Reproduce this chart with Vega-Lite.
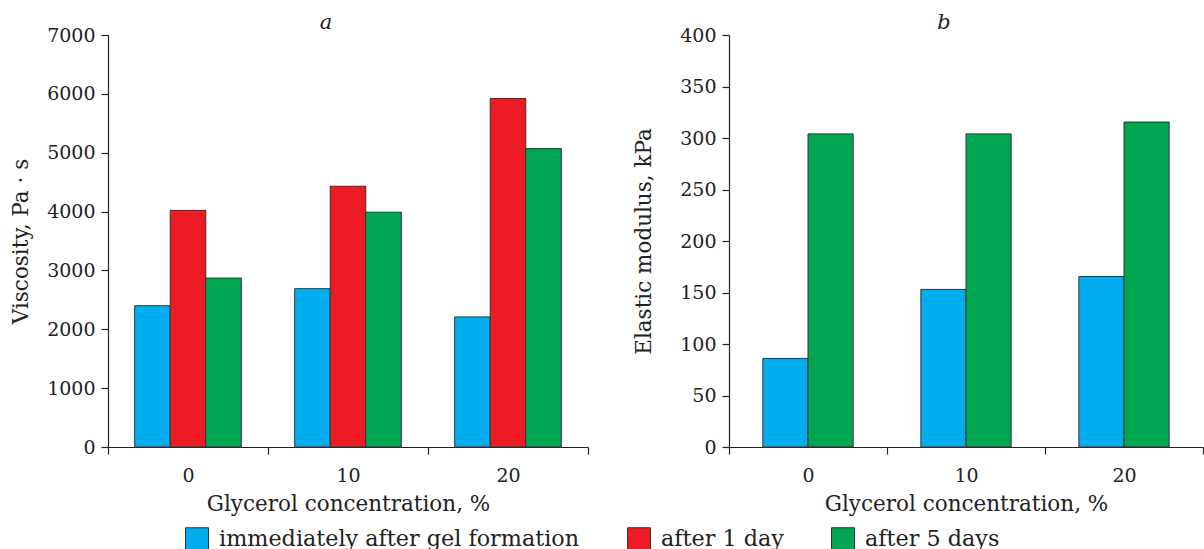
{
  "$schema": "https://vega.github.io/schema/vega-lite/v6.json",
  "padding": {"left": 10, "top": 12, "right": 0, "bottom": 0},
  "background": "white",
  "config": {
    "font": "DejaVu Serif",
    "view": {"stroke": null},
    "axis": {
      "domainColor": "#222", "tickColor": "#222", "labelColor": "#222", "titleColor": "#222",
      "labelFont": "DejaVu Serif", "titleFont": "DejaVu Serif",
      "labelFontSize": 19, "titleFontSize": 21.5, "titleFontWeight": "normal",
      "grid": false, "domainWidth": 1.2, "tickWidth": 1.2, "tickSize": 7
    },
    "concat": {"spacing": 44},
    "legend": {"labelFont": "DejaVu Serif", "labelFontSize": 22.3, "labelColor": "#222"}
  },
  "resolve": {"scale": {"xOffset": "independent", "color": "shared"}},
  "datasets": {
    "visc": [
      {"glycerol": 0, "series": "immediately after gel formation", "value": 2400},
      {"glycerol": 0, "series": "after 1 day", "value": 4020},
      {"glycerol": 0, "series": "after 5 days", "value": 2870},
      {"glycerol": 10, "series": "immediately after gel formation", "value": 2690},
      {"glycerol": 10, "series": "after 1 day", "value": 4430},
      {"glycerol": 10, "series": "after 5 days", "value": 3990},
      {"glycerol": 20, "series": "immediately after gel formation", "value": 2210},
      {"glycerol": 20, "series": "after 1 day", "value": 5920},
      {"glycerol": 20, "series": "after 5 days", "value": 5070}
    ],
    "mod": [
      {"glycerol": 0, "series": "immediately after gel formation", "value": 86},
      {"glycerol": 0, "series": "after 5 days", "value": 304},
      {"glycerol": 10, "series": "immediately after gel formation", "value": 153},
      {"glycerol": 10, "series": "after 5 days", "value": 304},
      {"glycerol": 20, "series": "immediately after gel formation", "value": 165.5},
      {"glycerol": 20, "series": "after 5 days", "value": 315.5}
    ]
  },
  "hconcat": [
    {
      "data": {"name": "visc"},
      "title": {"text": "a", "font": "DejaVu Serif", "fontStyle": "italic", "fontWeight": "normal", "fontSize": 21, "color": "#222", "frame": "group", "anchor": "middle", "dx": -22, "offset": -7},
      "width": 480,
      "height": 412,
      "mark": {"type": "bar", "stroke": "#333", "strokeWidth": 1},
      "encoding": {
        "x": {
          "field": "glycerol", "type": "ordinal",
          "scale": {"paddingInner": 0, "paddingOuter": 0},
          "axis": {"labelAngle": 0, "tickBand": "extent", "labelPadding": 12, "title": "Glycerol concentration, %", "titlePadding": 8}
        },
        "xOffset": {
          "field": "series", "type": "nominal",
          "sort": ["immediately after gel formation", "after 1 day", "after 5 days"],
          "scale": {"paddingInner": 0, "paddingOuter": 0.75}
        },
        "y": {
          "field": "value", "type": "quantitative",
          "scale": {"domain": [0, 7000], "nice": false},
          "axis": {"values": [0, 1000, 2000, 3000, 4000, 5000, 6000, 7000], "format": "d", "title": "Viscosity, Pa · s", "labelPadding": 6, "titlePadding": 14}
        },
        "color": {
          "field": "series", "type": "nominal",
          "scale": {
            "domain": ["immediately after gel formation", "after 1 day", "after 5 days"],
            "range": ["#00AEEF", "#ED1C24", "#00A651"]
          },
          "legend": {
            "title": null, "orient": "none", "direction": "horizontal",
            "legendX": 77, "legendY": 492,
            "symbolType": "square", "symbolSize": 529, "symbolStrokeColor": "#333", "symbolStrokeWidth": 1,
            "symbolOpacity": 1, "labelOffset": 10, "columnPadding": 45, "labelLimit": 0
          }
        }
      }
    },
    {
      "data": {"name": "mod"},
      "title": {"text": "b", "font": "DejaVu Serif", "fontStyle": "italic", "fontWeight": "normal", "fontSize": 21, "color": "#222", "frame": "group", "anchor": "middle", "dx": -22, "offset": -7},
      "width": 474,
      "height": 412,
      "mark": {"type": "bar", "stroke": "#333", "strokeWidth": 1},
      "encoding": {
        "x": {
          "field": "glycerol", "type": "ordinal",
          "scale": {"paddingInner": 0, "paddingOuter": 0},
          "axis": {"labelAngle": 0, "tickBand": "extent", "labelPadding": 12, "title": "Glycerol concentration, %", "titlePadding": 8}
        },
        "xOffset": {
          "field": "series", "type": "nominal",
          "sort": ["immediately after gel formation", "after 5 days"],
          "scale": {"paddingInner": 0, "paddingOuter": 0.75}
        },
        "y": {
          "field": "value", "type": "quantitative",
          "scale": {"domain": [0, 400], "nice": false},
          "axis": {"values": [0, 50, 100, 150, 200, 250, 300, 350, 400], "format": "d", "title": "Elastic modulus, kPa", "labelPadding": 6, "titlePadding": 24}
        },
        "color": {
          "field": "series", "type": "nominal",
          "scale": {
            "domain": ["immediately after gel formation", "after 1 day", "after 5 days"],
            "range": ["#00AEEF", "#ED1C24", "#00A651"]
          }
        }
      }
    }
  ]
}
